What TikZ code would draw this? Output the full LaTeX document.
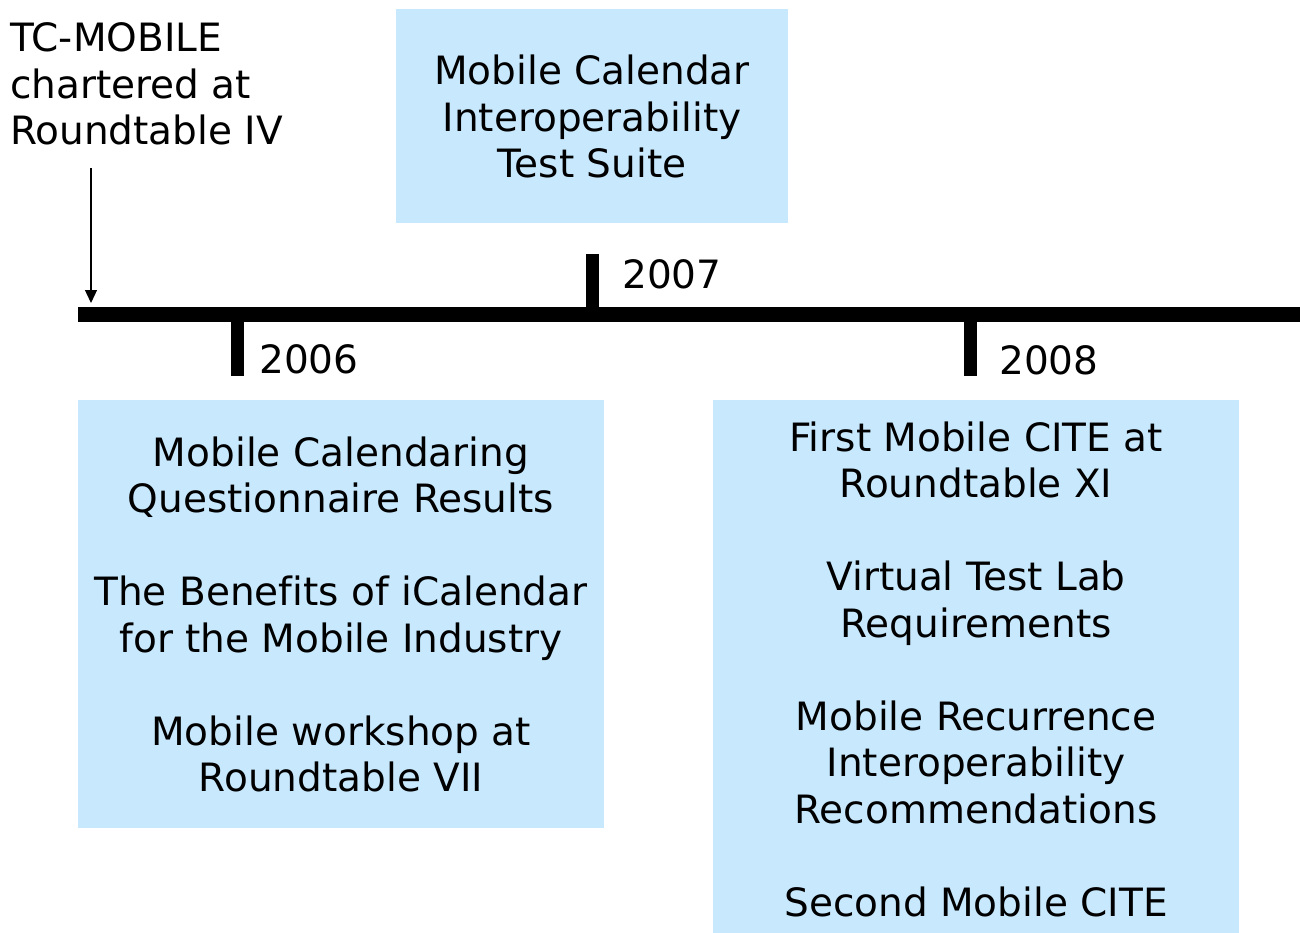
\documentclass[tikz,border=0pt]{standalone}
\usepackage{fontspec}
\setmainfont{DejaVu Sans}[Ligatures=NoCommon]
\usetikzlibrary{arrows.meta}
\definecolor{boxblue}{RGB}{200,233,253}
\tikzset{
  box/.style={fill=boxblue, draw=none, inner sep=0pt},
  txt/.style={font=\fontsize{39}{46.5}\selectfont, inner sep=0pt, text=black},
  axis/.style={line width=15pt, black},
  tick/.style={line width=13.5pt, black},
  pointer/.style={line width=1.3pt, black, -{Triangle[width=12pt,length=13pt]}}
}
\begin{document}
\begin{tikzpicture}[x=1pt,y=-1pt]
\useasboundingbox (0,0) rectangle (1300,933);
% boxes
\node[box, minimum width=392pt, minimum height=214pt] (topbox) at (592,116) {};
\node[box, minimum width=526pt, minimum height=428pt] (leftbox) at (341,614) {};
\node[box, minimum width=526pt, minimum height=533pt] (rightbox) at (976,666.5) {};
% timeline
\coordinate (tlstart) at (78,314.5);
\coordinate (tlend) at (1300,314.5);
\draw[axis] (tlstart) -- (tlend);
\coordinate (t7a) at (592.5,254); \coordinate (t7b) at (592.5,308);
\coordinate (t6a) at (237.5,321); \coordinate (t6b) at (237.5,376);
\coordinate (t8a) at (970.5,321); \coordinate (t8b) at (970.5,376);
\draw[tick] (t7a) -- (t7b);
\draw[tick] (t6a) -- (t6b);
\draw[tick] (t8a) -- (t8b);
% year labels
\node[txt, anchor=base west] (y2007) at (622,288) {2007};
\node[txt, anchor=base west] (y2006) at (259,373) {2006};
\node[txt, anchor=base west] (y2008) at (999,374) {2008};
% chartered label and arrow
\node[txt, anchor=base west] (charter) at (10,52) {\begin{tabular}[t]{@{}l@{}}TC-MOBILE\\chartered at\\Roundtable IV\end{tabular}};
\coordinate (arrstart) at (91,168);
\coordinate (arrend) at (91,303);
\draw[pointer] (arrstart) -- (arrend);
% box texts
\node[txt, anchor=base] (toptext) at (592,85) {\begin{tabular}[t]{@{}c@{}}Mobile Calendar\\Interoperability\\Test Suite\end{tabular}};
\node[txt, anchor=base] (lefttext) at (341,466) {\begin{tabular}[t]{@{}c@{}}Mobile Calendaring\\Questionnaire Results\\ \\The Benefits of iCalendar\\for the Mobile Industry\\ \\Mobile workshop at\\Roundtable VII\end{tabular}};
\node[txt, anchor=base] (righttext) at (976,451) {\begin{tabular}[t]{@{}c@{}}First Mobile CITE at\\Roundtable XI\\ \\Virtual Test Lab\\Requirements\\ \\Mobile Recurrence\\Interoperability\\Recommendations\\ \\Second Mobile CITE\end{tabular}};
\end{tikzpicture}
\end{document}
